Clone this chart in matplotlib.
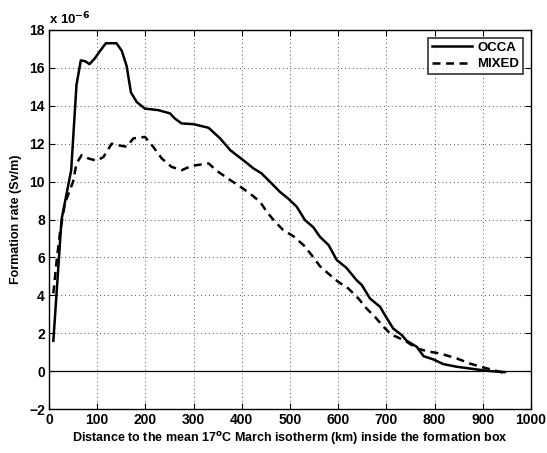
import matplotlib.pyplot as plt
import numpy as np

plt.rcParams['font.family'] = ['Liberation Sans', 'DejaVu Sans']
plt.rcParams['font.weight'] = 'bold'

# OCCA (x in km, formation rate in 1e-6 Sv/m)
occa_x = [9, 26, 46, 57, 66, 75, 84, 95, 106, 118, 140, 151, 161, 170, 182, 199,
          227, 251, 261, 275, 300, 331, 355, 376, 389, 403, 424, 441, 462, 479,
          496, 514, 531, 548, 562, 580, 597, 617, 638, 649, 666, 687, 697,
          714, 732, 742, 763, 777, 797, 818, 846, 887, 915, 946]
occa_y = [1.6, 8.0, 10.6, 15.1, 16.4, 16.35, 16.2, 16.5, 16.9, 17.3, 17.3, 16.9,
          16.1, 14.7, 14.2, 13.85, 13.77, 13.6, 13.33, 13.07, 13.03, 12.84, 12.28,
          11.66, 11.4, 11.13, 10.7, 10.43, 9.9, 9.46, 9.11, 8.67, 7.97, 7.6,
          7.09, 6.65, 5.86, 5.45, 4.8, 4.54, 3.83, 3.39, 2.95, 2.25, 1.9, 1.6,
          1.28, 0.79, 0.62, 0.37, 0.23, 0.09, 0.0, -0.05]

# MIXED
mixed_x = [9, 16, 23, 33, 50, 57, 68, 82, 99, 113, 130, 147, 161, 175, 199, 216,
           234, 254, 275, 296, 331, 348, 376, 393, 417, 438, 452, 469, 486, 507,
           528, 545, 562, 583, 600, 621, 642, 659, 676, 694, 711, 721, 742, 763,
           784, 811, 846, 873, 900, 943]
mixed_y = [4.1, 5.86, 7.35, 8.86, 10.0, 10.96, 11.4, 11.22, 11.1, 11.3, 12.0, 11.9,
           11.84, 12.28, 12.36, 11.84, 11.22, 10.78, 10.6, 10.83, 10.96, 10.57,
           10.08, 9.8, 9.37, 8.93, 8.4, 7.88, 7.44, 7.12, 6.65, 6.12, 5.54, 5.07,
           4.71, 4.36, 3.83, 3.3, 2.87, 2.34, 1.9, 1.81, 1.55, 1.2, 1.05, 0.93,
           0.67, 0.4, 0.2, -0.09]

fig = plt.figure(figsize=(5.47, 4.53), dpi=100)
ax = fig.add_axes([0.0896, 0.0971, 0.8812, 0.8367])

ax.axhline(0, color='black', lw=0.9)
ax.plot(occa_x, occa_y, 'k-', lw=1.8, label='OCCA')
ax.plot(mixed_x, mixed_y, 'k--', lw=1.8, dashes=(3.2, 2.2), label='MIXED')

ax.set_xlim(0, 1000)
ax.set_ylim(-2, 18)
ax.set_xticks(np.arange(0, 1001, 100))
ax.set_yticks(np.arange(-2, 19, 2))
ax.grid(True, color='#555555', linestyle=(0, (1, 3)), lw=0.7)
ax.tick_params(direction='in', top=True, right=True, length=4, width=0.8,
               labelsize=10, pad=3)
for lab in ax.get_xticklabels() + ax.get_yticklabels():
    lab.set_fontweight('bold')
for s in ax.spines.values():
    s.set_linewidth(1.0)

ax.set_xlabel('Distance to the mean 17$^{\\mathbf{o}}$C March isotherm (km) inside the formation box',
              fontsize=9, fontweight='bold', labelpad=2)
ax.set_ylabel('Formation rate (Sv/m)', fontsize=9, fontweight='bold', labelpad=5)
ax.text(0.0, 1.008, 'x 10$^{\\mathbf{-6}}$', transform=ax.transAxes,
        fontsize=9.5, fontweight='bold', va='bottom', ha='left')

leg = ax.legend(loc='upper right', fontsize=9.5, frameon=True, fancybox=False,
                edgecolor='black', borderaxespad=0.6, handlelength=3.0,
                borderpad=0.3, labelspacing=0.3, handletextpad=0.4)
leg.get_frame().set_linewidth(1.2)
for t in leg.get_texts():
    t.set_fontweight('bold')

fig.savefig('out.png', dpi=100)
